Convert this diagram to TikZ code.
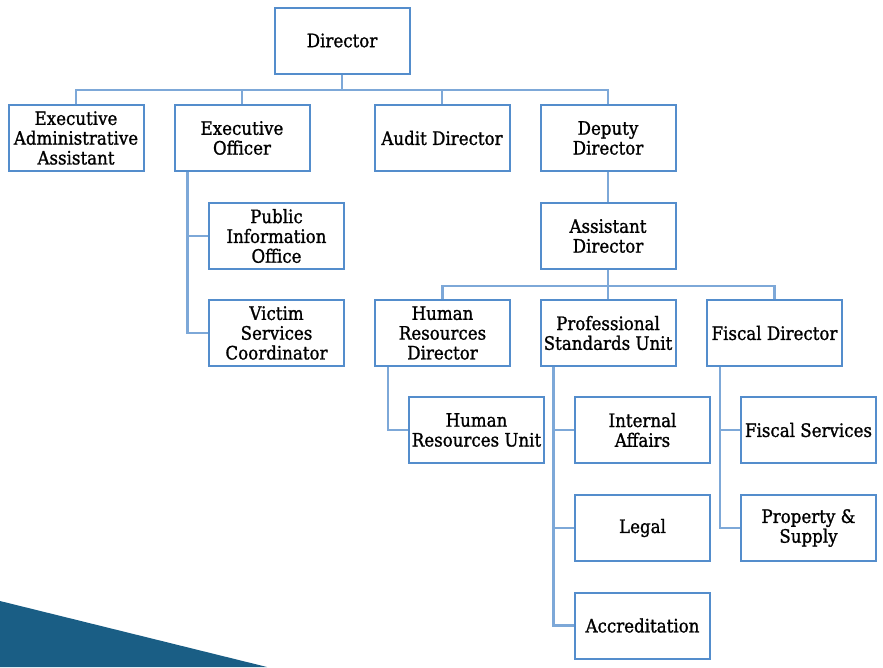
\documentclass[tikz,border=0pt]{standalone}
\usepackage{fontspec}
\setmainfont{DejaVu Serif}
\newfontfamily\unitfont[FakeStretch=0.9,FakeBold=1.2]{DejaVu Serif}
\definecolor{boxblue}{RGB}{84,141,204}
\definecolor{linkblue}{RGB}{125,168,216}
\definecolor{cornerblue}{RGB}{26,94,133}
\tikzset{
  unit/.style={draw=boxblue,line width=2pt,minimum width=135pt,minimum height=66pt,
    inner sep=1pt,align=center,font=\unitfont\fontsize{18.5}{19.8}\selectfont},
  link/.style={draw=linkblue,line width=2.2pt}
}
\begin{document}
\begin{tikzpicture}[x=1pt,y=-1pt]
    \useasboundingbox (0,0) rectangle (883,667);
    \fill [cornerblue] (0,601) -- (267,667) -- (0,667) -- cycle;
    % top level
    \node[unit] (dir) at (342,40.5) {Director};
    \node[unit] (eaa) at (76,138) {Executive\\Administrative\\Assistant};
    \node[unit] (eo)  at (242,138) {Executive\\Officer};
    \node[unit] (aud) at (442,138) {Audit Director};
    \node[unit] (dd)  at (608,138) {Deputy\\Director};
    \node[unit] (pio) at (276.5,236) {Public\\Information\\Office};
    \node[unit] (vsc) at (276.5,333) {Victim\\Services\\Coordinator};
    \node[unit] (ad)  at (608,236) {Assistant\\Director};
    % divisions
    \node[unit] (hrd) at (442.5,333) {Human\\Resources\\Director};
    \node[unit] (psu) at (608,333) {Professional\\Standards Unit};
    \node[unit] (fd)  at (774.5,333) {Fiscal Director};
    \node[unit] (hru) at (476.5,430) {Human\\Resources Unit};
    \node[unit] (ia)  at (642.5,430) {Internal\\Affairs};
    \node[unit] (fs)  at (808.5,430) {Fiscal Services};
    \node[unit] (legal) at (642.5,528) {Legal};
    \node[unit] (ps)  at (808.5,528) {Property \&\\Supply};
    \node[unit] (acc) at (642.5,625.5) {Accreditation};
    % buses
    \coordinate (bus1) at (342,90);
    \coordinate (bus2) at (608,286);
    \draw[link] (dir.south) -- (bus1);
    \draw[link] (eaa.north) |- (bus1) -| (dd.north);
    \foreach \n in {eo,aud}
      \draw[link] (\n.north) -- (\n.north |- bus1);
    \draw[link] (dd.south) -- (ad.north);
    \draw[link] (ad.south) -- (psu.north);
    \draw[link] (hrd.north) |- (bus2) -| (fd.north);
    % side branches
    \foreach \p/\first/\last in {eo/pio/vsc, hrd/hru/hru, psu/ia/acc, fd/fs/ps} {
      \coordinate (leg-\p) at ([xshift=14pt]\p.south west);
      \draw[link] (leg-\p) |- (\last.west);
      \draw[link] (\first.west) -- (\first.west -| leg-\p);
    }
    \draw[link] (legal.west) -- (legal.west -| leg-psu);
\end{tikzpicture}
\end{document}
